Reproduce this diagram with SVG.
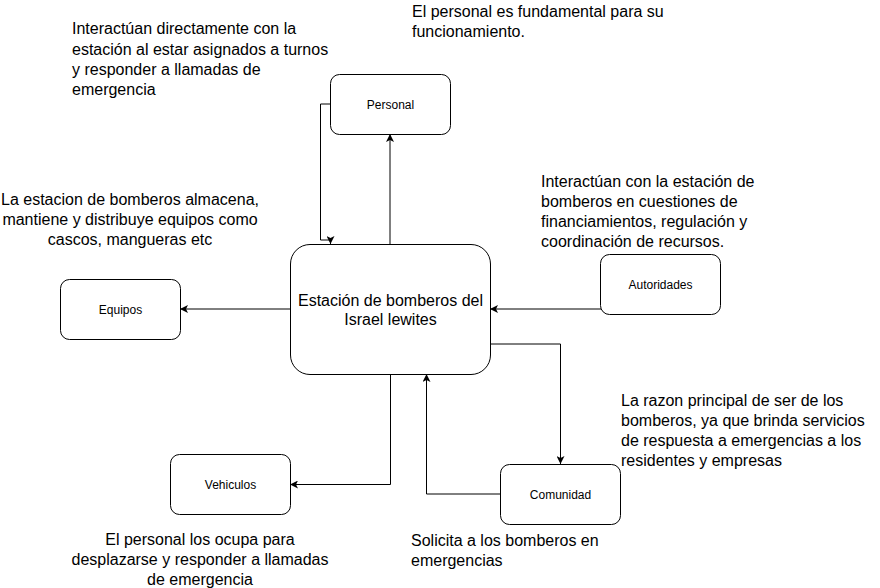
<svg xmlns="http://www.w3.org/2000/svg" width="880" height="588" viewBox="0 0 880 588">
  <defs>
    <style>
      .box { fill: #ffffff; stroke: #000000; stroke-width: 1; }
      .lbl { font-family: "Liberation Sans", Arial, Helvetica, sans-serif; font-size: 12px; fill: #000000; text-anchor: middle; }
      .main { font-family: "Liberation Sans", Arial, Helvetica, sans-serif; font-size: 16px; fill: #000000; text-anchor: middle; }
      .note { font-family: "Liberation Sans", Arial, Helvetica, sans-serif; font-size: 16px; fill: #000000; }
      .mid { text-anchor: middle; }
      .edge { fill: none; stroke: #000000; stroke-width: 1; marker-end: url(#arrow); }
    </style>
    <marker id="arrow" viewBox="0 0 8 8" refX="8" refY="4" markerWidth="8" markerHeight="8" markerUnits="userSpaceOnUse" orient="auto">
      <path d="M8,4 L0,0 L2,4 L0,8 Z" fill="#000000"/>
    </marker>
  </defs>
  <rect width="880" height="588" fill="#ffffff"/>

  <g id="connectors">
    <path class="edge" d="M390,244 V134"/>
    <path class="edge" d="M330,104 H320.5 V240 H330.5 V244"/>
    <path class="edge" d="M290,309 H180"/>
    <path class="edge" d="M601,309 H490"/>
    <path class="edge" d="M490,344 H560.5 V464"/>
    <path class="edge" d="M500,494 H426.5 V374"/>
    <path class="edge" d="M390.5,374 V484.5 H290"/>
  </g>

  <g id="node-main">
    <rect class="box" x="290.5" y="244.5" width="200" height="130" rx="19.5" ry="19.5"/>
    <text class="main" x="390.5" y="306">Estación de bomberos del</text>
    <text class="main" x="390.5" y="325">Israel lewites</text>
  </g>

  <g id="node-personal">
    <rect class="box" x="330.5" y="74.5" width="120" height="60" rx="9" ry="9"/>
    <text class="lbl" x="390.5" y="108.5">Personal</text>
  </g>

  <g id="node-equipos">
    <rect class="box" x="60.5" y="279.5" width="120" height="60" rx="9" ry="9"/>
    <text class="lbl" x="120.5" y="313.5">Equipos</text>
  </g>

  <g id="node-autoridades">
    <rect class="box" x="600.5" y="254.5" width="120" height="60" rx="9" ry="9"/>
    <text class="lbl" x="660.5" y="288.5">Autoridades</text>
  </g>

  <g id="node-comunidad">
    <rect class="box" x="500.5" y="464.5" width="120" height="60" rx="9" ry="9"/>
    <text class="lbl" x="560.5" y="498.5">Comunidad</text>
  </g>

  <g id="node-vehiculos">
    <rect class="box" x="170.5" y="454.5" width="120" height="60" rx="9" ry="9"/>
    <text class="lbl" x="230.5" y="488.5">Vehiculos</text>
  </g>

  <g id="note-personal">
    <text class="note" x="72" y="34">Interactúan directamente con la</text>
    <text class="note" x="72" y="54.5">estación al estar asignados a turnos</text>
    <text class="note" x="72" y="75">y responder a llamadas de</text>
    <text class="note" x="72" y="95">emergencia</text>
  </g>

  <g id="note-fundamental">
    <text class="note" x="412" y="17">El personal es fundamental para su</text>
    <text class="note" x="412" y="37">funcionamiento.</text>
  </g>

  <g id="note-equipos">
    <text class="note mid" x="130" y="205">La estacion de bomberos almacena,</text>
    <text class="note mid" x="130" y="225">mantiene y distribuye equipos como</text>
    <text class="note mid" x="130" y="245">cascos, mangueras etc</text>
  </g>

  <g id="note-autoridades">
    <text class="note" x="541" y="187">Interactúan con la estación de</text>
    <text class="note" x="541" y="207">bomberos en cuestiones de</text>
    <text class="note" x="541" y="227">financiamientos, regulación y</text>
    <text class="note" x="541" y="247">coordinación de recursos.</text>
  </g>

  <g id="note-comunidad">
    <text class="note" x="621" y="405.5">La razon principal de ser de los</text>
    <text class="note" x="621" y="425.5">bomberos, ya que brinda servicios</text>
    <text class="note" x="621" y="445.5">de respuesta a emergencias a los</text>
    <text class="note" x="621" y="465.5">residentes y empresas</text>
  </g>

  <g id="note-solicita">
    <text class="note" x="411" y="546">Solicita a los bomberos en</text>
    <text class="note" x="411" y="566">emergencias</text>
  </g>

  <g id="note-vehiculos">
    <text class="note mid" x="200" y="545">El personal los ocupa para</text>
    <text class="note mid" x="200" y="565">desplazarse y responder a llamadas</text>
    <text class="note mid" x="200" y="585">de emergencia</text>
  </g>
</svg>
